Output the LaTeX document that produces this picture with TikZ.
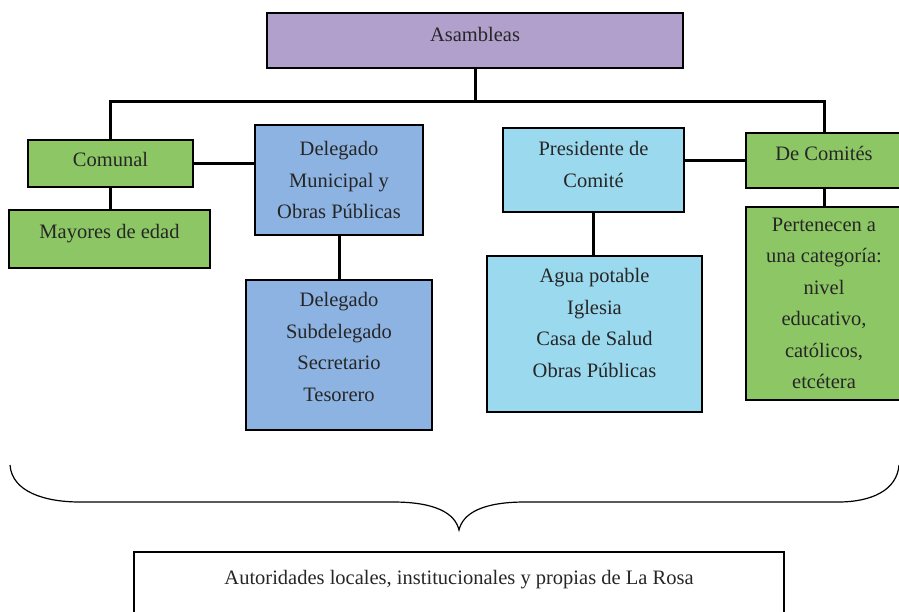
\documentclass[tikz,border=0pt]{standalone}
\usepackage{fontspec}
\setmainfont{Liberation Serif}
\definecolor{lila}{HTML}{B1A0CB}
\definecolor{verde}{HTML}{8DC765}
\definecolor{azul}{HTML}{8DB3E2}
\definecolor{celeste}{HTML}{9BD9EE}
\definecolor{tinta}{HTML}{262626}

\begin{document}
\begin{tikzpicture}[x=1pt, y=-1pt,
    caja/.style={draw=black, line width=2pt, inner sep=0pt, align=center,
      text=tinta, font=\fontsize{20.5}{31.5}\selectfont},
    enlace/.style={line width=3pt}]
  \clip (0,0) rectangle (899,611);

  \node[caja, fill=lila, minimum width=416, minimum height=55, text depth=13pt] (asam) at (475,40.5) {Asambleas};

  \node[caja, fill=verde, minimum width=165, minimum height=47, text depth=9pt] (comunal) at (110.5,163.5) {Comunal};
  \node[caja, fill=verde, minimum width=201, minimum height=58, text depth=15pt] (mayores) at (109.5,239) {Mayores de edad};

  \node[caja, fill=azul, minimum width=168, minimum height=110] (delmun) at (339,180) {Delegado\\Municipal y\\Obras Públicas};
  \node[caja, fill=azul, minimum width=186, minimum height=150, text depth=16pt] (dellist) at (339,355) {Delegado\\Subdelegado\\Secretario\\Tesorero};

  \node[caja, fill=celeste, minimum width=181, minimum height=84, text depth=11pt] (pres) at (593.5,170) {Presidente de\\Comité};
  \node[caja, fill=celeste, minimum width=215, minimum height=156, text depth=22pt] (agua) at (594.5,334) {Agua potable\\Iglesia\\Casa de Salud\\Obras Públicas};

  \node[caja, fill=verde, minimum width=156, minimum height=55, text depth=15pt] (decom) at (824,160.5) {De Comités};
  \node[caja, fill=verde, minimum width=156, minimum height=193] (pert) at (824,303.5) {Pertenecen a\\una categoría:\\nivel\\educativo,\\católicos,\\etcétera};

  \node[caja, line width=1.6pt, anchor=north, minimum width=650, inner ysep=0pt,
    text height=33pt, text depth=40pt] (autor) at (459,551) {Autoridades locales, institucionales y propias de La Rosa};

  % conectores
  \draw[enlace] (asam.south) -- ++(0,34);
  \draw[enlace] (comunal.north) -- ++(0,-38) -| (decom.north);
  \draw[enlace] (comunal.south) -- (comunal.south |- mayores.north);
  \draw[enlace] (comunal.east) -- (delmun.west |- comunal.east);
  \draw[enlace] (delmun.south) -- (dellist.north);
  \draw[enlace] (decom.west) -- (decom.west -| pres.east);
  \draw[enlace] (pres.south) -- (pres.south |- agua.north);
  \draw[enlace] (decom.south) -- (decom.south |- pert.north);

  % llave
  \draw[line width=1.2pt] (10,465) .. controls (12,492) and (45,502) .. (80,502)
    -- (393,502) .. controls (435,502) and (455,513) .. (459,530)
    .. controls (463,513) and (483,502) .. (525,502)
    -- (838,502) .. controls (872,502) and (897,490) .. (899,465);
\end{tikzpicture}
\end{document}
